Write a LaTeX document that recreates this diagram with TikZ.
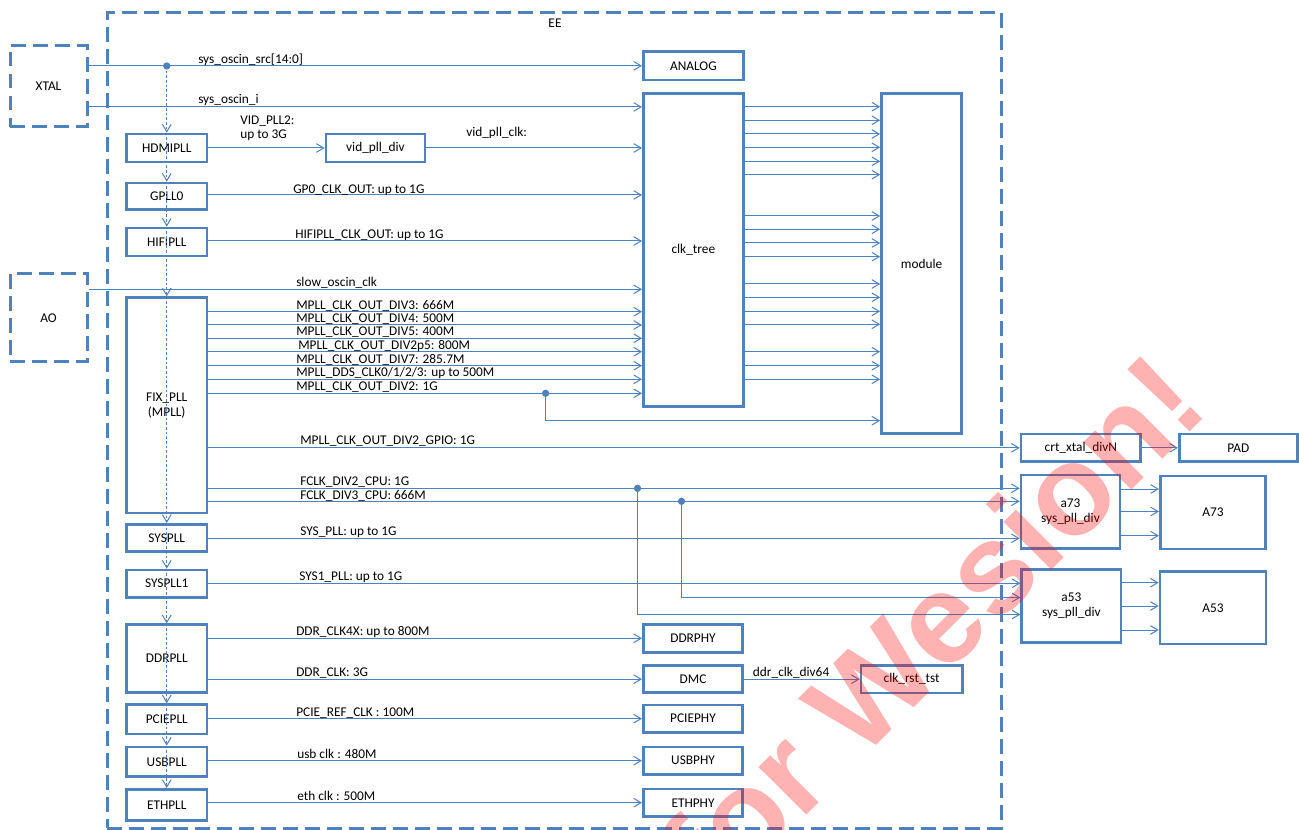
\documentclass[tikz,border=0pt]{standalone}
\usepackage{fontspec}
\setmainfont{Carlito}
\newfontfamily\wmfont{Liberation Sans}
\usetikzlibrary{arrows.meta}
\definecolor{bx}{HTML}{4F81BD}
\definecolor{ln}{HTML}{4F81BD}
\begin{document}
\begin{tikzpicture}[x=0.75pt,y=-0.75pt,
  font=\fontsize{10}{11.5}\selectfont,
  box/.style={draw=bx, line width=2pt, inner sep=0pt, align=center},
  dbox/.style={draw=bx, line width=2.25pt, dash pattern=on 11pt off 5.5pt, inner sep=0pt},
  sz/.style 2 args={minimum width=#1*0.75pt, minimum height=#2*0.75pt},
  conn/.style={draw=ln, line width=0.75pt, -{Straight Barb[length=5.5pt,width=6.5pt]}},
  vchain/.style={draw=ln, line width=0.75pt, dash pattern=on 2pt off 1.5pt, -{Straight Barb[length=5.5pt,width=6.5pt,line width=0.75pt]}},
  lbl/.style={anchor=base west, inner sep=0pt},
  jdot/.style={fill=ln, circle, inner sep=0pt, minimum size=5.5pt},
]
\useasboundingbox (0,0) rectangle (1299,830);
\clip (0,0) rectangle (1299,830);

% outer dashed boxes
\node[dbox, sz={77}{81.5}] (xtal) at (48.5,86) {XTAL};
\node[dbox, sz={77}{88}] (ao) at (48.5,318) {AO};
\node[dbox, sz={894}{815.5}] (ee) at (554,420.25) {};
\node (eelbl) at (555,23) {EE};

% PLLs
\node[box, sz={80.5}{28}] (hdmi) at (166.75,148) {HDMIPLL};
\node[box, sz={80.5}{26.5}] (gpll) at (166.75,196.25) {GPLL0};
\node[box, sz={80.5}{28}] (hifi) at (166.75,242) {HIFIPLL};
\node[box, sz={80.5}{215.3}] (fix) at (166.75,405.35) {FIX\_PLL\\(MPLL)};
\node[box, sz={80.5}{27.4}] (sys) at (166.75,538) {SYSPLL};
\node[box, sz={80.5}{27.3}] (sys1) at (166.75,583.65) {SYSPLL1};
\node[box, sz={80.5}{68}] (ddr) at (166.75,658.7) {DDRPLL};
\node[box, sz={80.5}{29.3}] (pcie) at (166.75,719.35) {PCIEPLL};
\node[box, sz={80.5}{29.7}] (usb) at (166.75,761.85) {USBPLL};
\node[box, sz={80.5}{31.4}] (eth) at (166.75,805) {ETHPLL};

% other boxes
\node[box, sz={99}{28}] (vid) at (375.5,148) {vid\_pll\_div};
\node[box, sz={100}{28.3}] (analog) at (693.35,65.85) {ANALOG};
\node[box, sz={100}{313.2}] (clk) at (693.35,249.9) {clk\_tree};
\node[box, sz={80.3}{340.4}] (module) at (921.65,263.5) {module};
\node[box, sz={99.4}{28}] (ddrphy) at (693,638.3) {DDRPHY};
\node[box, sz={99.4}{27}] (dmc) at (693,679.2) {DMC};
\node[box, sz={101.3}{27.4}] (clkrst) at (911.65,679.2) {clk\_rst\_tst};
\node[box, sz={99.4}{27.3}] (pciephy) at (693,718.65) {PCIEPHY};
\node[box, sz={99.4}{27.3}] (usbphy) at (693,760.65) {USBPHY};
\node[box, sz={99.4}{27.7}] (ethphy) at (693,802.85) {ETHPHY};
\node[box, sz={119.7}{27.7}] (crt) at (1080.85,447.85) {crt\_xtal\_divN};
\node[box, sz={118}{27.7}] (pad) at (1238.3,447.85) {PAD};
\node[box, sz={99}{73.3}, font=\fontsize{10}{11.25}\selectfont] (a73) at (1070.5,511.65) {a73\\sys\_pll\_div};
\node[box, sz={105.4}{73}] (A73) at (1213,512.5) {A73};
\node[box, sz={99.3}{73.4}, font=\fontsize{10}{11.25}\selectfont] (a53) at (1071.35,606) {a53\\sys\_pll\_div};
\node[box, sz={106}{72.3}] (A53) at (1213,607.85) {A53};

% junction dots
\node[jdot] (d0) at (166.75,66) {};
\node[jdot] (d1) at (545.6,393.3) {};
\node[jdot] (d2) at (637.5,488.3) {};
\node[jdot] (d3) at (681.5,501.3) {};

% connectors
\draw[conn] (xtal.east |- analog.west) -- (analog.west);
\draw[conn] (xtal.east |- 0,107) -- (clk.west |- 0,107);
\draw[conn] (hdmi.east) -- (vid.west);
\draw[conn] (vid.east) -- (clk.west |- vid.east);
\draw[conn] (gpll.east |- 0,195) -- (clk.west |- 0,195);
\draw[conn] (hifi.east |- 0,241) -- (clk.west |- 0,241);
\draw[conn] (ao.east |- 0,289.3) -- (clk.west |- 0,289.3);
\foreach \yy in {311.7,325,338.3,351.7,365.7,379.3,393.3}
  \draw[conn] (fix.east |- 0,\yy) -- (clk.west |- 0,\yy);
\draw[conn] (d1.center) |- (module.west |- 0,420.7);
\draw[conn] (fix.east |- crt.west) -- (crt.west);
\draw[conn] (fix.east |- d2.center) -- (a73.west |- d2.center);
\draw[conn] (fix.east |- d3.center) -- (a73.west |- d3.center);
\draw[conn] (d2.center) |- (a53.west |- 0,614.5);
\draw[conn] (d3.center) |- (a53.west |- 0,597.5);
\draw[conn] (sys.east |- 0,538.3) -- (a73.west |- 0,538.3);
\draw[conn] (sys1.east |- 0,583.3) -- (a53.west |- 0,583.3);
\draw[conn] (ddr.east |- ddrphy.west) -- (ddrphy.west);
\draw[conn] (ddr.east |- dmc.west) -- (dmc.west);
\draw[conn] (pcie.east |- 0,718.7) -- (pciephy.west |- 0,718.7);
\draw[conn] (usb.east |- 0,760.7) -- (usbphy.west |- 0,760.7);
\draw[conn] (eth.east |- 0,802.7) -- (ethphy.west |- 0,802.7);
\draw[conn] (dmc.east) -- (clkrst.west);
\draw[conn] (crt.east) -- (pad.west);
\foreach \yy in {106.7,120.3,134,147.3,161.3,174.7,216,229.3,243,256.7,284,297.3,311.3,324.3,351.7,365.7,379.3}
  \draw[conn] (clk.east |- 0,\yy) -- (module.west |- 0,\yy);
\foreach \yy in {489,511.5,535.7}
  \draw[conn] (a73.east |- 0,\yy) -- (A73.west |- 0,\yy);
\foreach \yy in {582.7,606,630}
  \draw[conn] (a53.east |- 0,\yy) -- (A53.west |- 0,\yy);

% dotted reference chain
\draw[vchain] (d0.center) -- (hdmi.north);
\draw[vchain] (hdmi.north) -- (gpll.north);
\draw[vchain] (gpll.north) -- (hifi.north);
\draw[vchain] (hifi.north) -- (fix.north);
\draw[vchain] (fix.north) -- (sys.north);
\draw[vchain] (sys.north) -- (sys1.north);
\draw[vchain] (sys1.north) -- (ddr.north);
\draw[vchain] (ddr.north) -- (pcie.north);
\draw[vchain] (pcie.north) -- (usb.north);
\draw[vchain] (usb.north) -- (eth.north);

% labels
\node[lbl] (t1) at (198,63.5) {sys\_oscin\_src[14:0]};
\node[lbl] (t2) at (198,104) {sys\_oscin\_i};
\node[anchor=west, inner sep=0pt, align=left, font=\fontsize{10}{10.5}\selectfont] (t3) at (240,128.5) {VID\_PLL2:\\up to 3G};
\node[lbl] (t4) at (466,136.5) {vid\_pll\_clk:};
\node[lbl] (t5) at (293,193.5) {GP0\_CLK\_OUT: up to 1G};
\node[lbl] (t6) at (295,238.5) {HIFIPLL\_CLK\_OUT: up to 1G};
\node[lbl] (t7) at (296,286.5) {slow\_oscin\_clk};
\node[lbl] (m1) at (296,309.2) {MPLL\_CLK\_OUT\_DIV3: 666M};
\node[lbl] (m2) at (296,322.5) {MPLL\_CLK\_OUT\_DIV4: 500M};
\node[lbl] (m3) at (296,335.8) {MPLL\_CLK\_OUT\_DIV5: 400M};
\node[lbl] (m4) at (298,349.2) {MPLL\_CLK\_OUT\_DIV2p5: 800M};
\node[lbl] (m5) at (296,363.2) {MPLL\_CLK\_OUT\_DIV7: 285.7M};
\node[lbl] (m6) at (296,376.8) {MPLL\_DDS\_CLK0/1/2/3: up to 500M};
\node[lbl] (m7) at (296,390.8) {MPLL\_CLK\_OUT\_DIV2: 1G};
\node[lbl] (t8) at (300,445) {MPLL\_CLK\_OUT\_DIV2\_GPIO: 1G};
\node[lbl] (t9) at (300,485.5) {FCLK\_DIV2\_CPU: 1G};
\node[lbl] (t10) at (300,499) {FCLK\_DIV3\_CPU: 666M};
\node[lbl] (t11) at (300,535.5) {SYS\_PLL: up to 1G};
\node[lbl] (t12) at (299,580.8) {SYS1\_PLL: up to 1G};
\node[lbl] (t13) at (296,635.8) {DDR\_CLK4X: up to 800M};
\node[lbl] (t14) at (296,676.5) {DDR\_CLK: 3G};
\node[lbl] (t15) at (296,716.2) {PCIE\_REF\_CLK : 100M};
\node[lbl] (t16) at (297,758.2) {usb clk : 480M};
\node[lbl] (t17) at (297,800.2) {eth clk : 500M};
\node[lbl] (t18) at (752.7,676) {ddr\_clk\_div64};

% watermark
\node[rotate=45, anchor=base west, inner sep=0pt, text=red, text opacity=0.3,
  font=\wmfont\bfseries\fontsize{96}{96}\selectfont] (wm) at (715,907) {for Wesion!};
\end{tikzpicture}
\end{document}
